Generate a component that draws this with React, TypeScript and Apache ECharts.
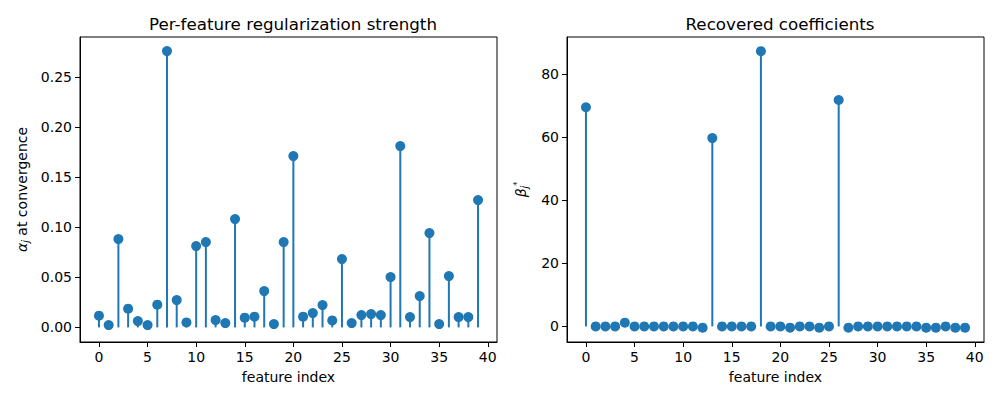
import React, { useEffect, useRef } from "react";
import * as echarts from "echarts";

const featureIndex = Array.from({ length: 40 }, (_, i) => i);
const alphaValues = [
  0.0117, 0.0023, 0.0883, 0.0187, 0.0063, 0.0023, 0.0227, 0.2763, 0.0273, 0.005,
  0.0813, 0.0853, 0.0073, 0.0043, 0.1083, 0.0097, 0.0107, 0.0363, 0.0033, 0.0853,
  0.1713, 0.0107, 0.0143, 0.0223, 0.007, 0.0683, 0.0043, 0.0123, 0.0133, 0.0123,
  0.0503, 0.1813, 0.0103, 0.0313, 0.0943, 0.0033, 0.0513, 0.0103, 0.0103, 0.1273,
];
const betaValues = [
  69.6, 0, 0, 0, 1.2, 0, 0, 0, 0, 0,
  0, 0, -0.4, 59.8, 0, 0, 0, 0, 87.4, 0,
  0, -0.4, 0, 0, -0.4, 0, 71.9, -0.4, 0, 0,
  0, 0, 0, 0, 0, -0.4, -0.4, 0, -0.4, -0.4,
];
const xTicks = [0, 5, 10, 15, 20, 25, 30, 35, 40];
const alphaTicks = [0, 0.05, 0.1, 0.15, 0.2, 0.25];
const betaTicks = [0, 20, 40, 60, 80];
const titles = ["Per-feature regularization strength", "Recovered coefficients"];

const FONT = "DejaVu Sans";
const BLUE = "#1f77b4";

function stemRender(params: any, api: any) {
  const x = api.value(0);
  const y = api.value(1);
  const p0 = api.coord([x, 0]);
  const p1 = api.coord([x, y]);
  return {
    type: "line",
    shape: { x1: p0[0], y1: p0[1], x2: p1[0], y2: p1[1] },
    style: { stroke: BLUE, lineWidth: 2 },
  };
}

function xAxisCfg(gridIndex: number) {
  return {
    type: "value",
    gridIndex,
    min: -1.95,
    max: 40.95,
    name: "feature index",
    nameLocation: "middle",
    nameGap: 28,
    nameTextStyle: { fontFamily: FONT, fontSize: 14, color: "#000" },
    axisLine: { show: true, onZero: false, lineStyle: { color: "#000", width: 1 } },
    axisTick: { show: true, length: 5, customValues: xTicks, lineStyle: { color: "#000" } },
    axisLabel: { show: true, customValues: xTicks, margin: 8, fontFamily: FONT, fontSize: 14, color: "#000" },
    splitLine: { show: false },
  };
}

export default function App() {
  const ref = useRef<HTMLDivElement>(null);
  useEffect(() => {
    if (!ref.current) return;
    const chart = echarts.init(ref.current, null, { renderer: "svg" });
    const alphaData = featureIndex.map((i) => [i, alphaValues[i]]);
    const betaData = featureIndex.map((i) => [i, betaValues[i]]);
    chart.setOption({
      animation: false,
      backgroundColor: "#fff",
      title: [
        { text: titles[0], left: 288, top: 10, textAlign: "center", textStyle: { fontFamily: FONT, fontSize: 16.7, fontWeight: "normal", color: "#000" } },
        { text: titles[1], left: 775, top: 10, textAlign: "center", textStyle: { fontFamily: FONT, fontSize: 16.7, fontWeight: "normal", color: "#000" } },
      ],
      grid: [
        { left: 80, top: 37, width: 417, height: 305, show: true, borderColor: "#000", borderWidth: 1, backgroundColor: "transparent" },
        { left: 567, top: 37, width: 417, height: 305, show: true, borderColor: "#000", borderWidth: 1, backgroundColor: "transparent" },
      ],
      xAxis: [xAxisCfg(0), xAxisCfg(1)],
      yAxis: [
        {
          type: "value",
          gridIndex: 0,
          min: -0.0146,
          max: 0.2904,
          name: "{a|α}{j|j} at convergence",
          nameLocation: "middle",
          nameRotate: 90,
          nameGap: 50,
          nameTextStyle: {
            fontFamily: FONT, fontSize: 14, color: "#000",
            rich: {
              a: { fontFamily: FONT, fontSize: 14, fontStyle: "italic", color: "#000" },
              j: { fontFamily: FONT, fontSize: 10, fontStyle: "italic", color: "#000", verticalAlign: "bottom", padding: [6, 0, 0, 0] },
            },
          },
          axisLine: { show: true, onZero: false, lineStyle: { color: "#000", width: 1 } },
          axisTick: { show: true, length: 5, customValues: alphaTicks, lineStyle: { color: "#000" } },
          axisLabel: { show: true, customValues: alphaTicks, margin: 8, fontFamily: FONT, fontSize: 14, color: "#000", formatter: (v: number) => v.toFixed(2) },
          splitLine: { show: false },
        },
        {
          type: "value",
          gridIndex: 1,
          min: -4.95,
          max: 91.9,
          name: "{b|β}{j|j}{s|*}",
          nameLocation: "middle",
          nameRotate: 90,
          nameGap: 38,
          nameTextStyle: {
            fontFamily: FONT, fontSize: 14, color: "#000",
            rich: {
              b: { fontFamily: FONT, fontSize: 14, fontStyle: "italic", color: "#000" },
              j: { fontFamily: FONT, fontSize: 10, fontStyle: "italic", color: "#000", verticalAlign: "bottom", padding: [6, 0, 0, 0] },
              s: { fontFamily: FONT, fontSize: 8, color: "#000", verticalAlign: "top", padding: [0, 0, 6, 0] },
            },
          },
          axisLine: { show: true, onZero: false, lineStyle: { color: "#000", width: 1 } },
          axisTick: { show: true, length: 5, customValues: betaTicks, lineStyle: { color: "#000" } },
          axisLabel: { show: true, customValues: betaTicks, margin: 8, fontFamily: FONT, fontSize: 14, color: "#000" },
          splitLine: { show: false },
        },
      ],
      series: [
        { type: "custom", xAxisIndex: 0, yAxisIndex: 0, data: alphaData, renderItem: stemRender, encode: { x: 0, y: 1 }, z: 2 },
        { type: "scatter", xAxisIndex: 0, yAxisIndex: 0, data: alphaData, symbolSize: 10, itemStyle: { color: BLUE, opacity: 1 }, z: 3 },
        { type: "custom", xAxisIndex: 1, yAxisIndex: 1, data: betaData, renderItem: stemRender, encode: { x: 0, y: 1 }, z: 2 },
        { type: "scatter", xAxisIndex: 1, yAxisIndex: 1, data: betaData, symbolSize: 10, itemStyle: { color: BLUE, opacity: 1 }, z: 3 },
      ],
    });
    return () => chart.dispose();
  }, []);
  return <div ref={ref} style={{ position: "absolute", left: 0, top: 0, width: 1000, height: 400 }} />;
}
